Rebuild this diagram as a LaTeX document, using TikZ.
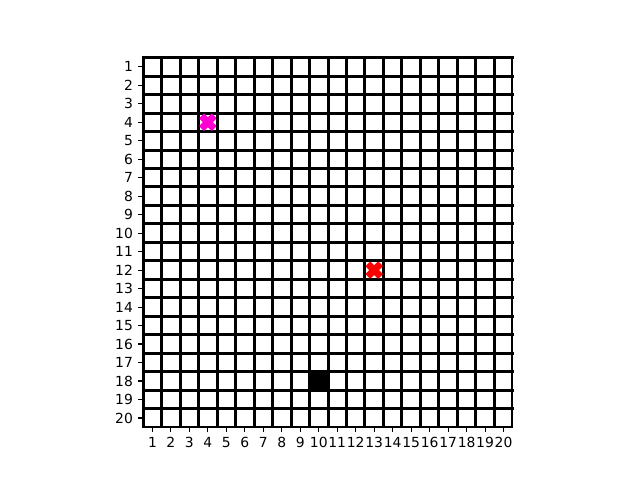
\documentclass[tikz,border=0pt]{standalone}
\usepackage{fontspec}
\setmainfont{DejaVu Sans}
\definecolor{mag}{RGB}{255,0,208}
\tikzset{
  gridline/.style={line width=3pt, black, line cap=rect},
  edgeline/.style={line width=2.1pt, black, line cap=rect},
  tickmark/.style={line width=1.1pt, black},
  ylab/.style={anchor=east, inner sep=0pt, font=\fontsize{13.9}{14}\selectfont},
  xlab/.style={anchor=north, inner sep=0pt, font=\fontsize{13.9}{14}\selectfont},
  xmark/.style={line width=1.4pt, line join=round},
}
\begin{document}
\begin{tikzpicture}[x=1pt,y=-1pt]
\useasboundingbox (0,0) rectangle (640,480);
\fill[white] (0,0) rectangle (640,480);
\def\xo{143.2}\def\yo{57.6}\def\cs{18.48}
% black cell (col 10,row 18)
\fill[black] ({\xo+9*\cs},{\yo+17*\cs}) rectangle ({\xo+10*\cs},{\yo+18*\cs});
% grid
\foreach \i in {0,...,19}{
  \draw[gridline] ({\xo+\i*\cs},\yo) -- ({\xo+\i*\cs},{\yo+20*\cs-0.5});
  \draw[gridline] (\xo,{\yo+\i*\cs}) -- ({\xo+20*\cs-0.5},{\yo+\i*\cs});
}
\draw[edgeline] ({\xo+20*\cs-0.45},\yo) -- ({\xo+20*\cs-0.45},{\yo+20*\cs-0.45}) -- (\xo,{\yo+20*\cs-0.45});
% ticks and labels
\foreach \i in {1,...,20}{
  \coordinate (yt\i) at (\xo,{\yo+(\i-0.5)*\cs});
  \draw[tickmark] (yt\i) -- ++(-4.86,0) node[ylab, xshift=-4.86pt] (yl\i) {\i};
  \coordinate (xt\i) at ({\xo+(\i-0.5)*\cs},{\yo+20*\cs});
  \draw[tickmark] (xt\i) -- ++(0,4.86) node[xlab, yshift=-4.86pt] (xl\i) {\i};
}
% X markers
\foreach \cx/\cy/\col/\nm in {4/4/mag/ma, 13/12/red/mb}{
  \begin{scope}[shift={({\xo+(\cx-0.5)*\cs},{\yo+(\cy-0.5)*\cs})}, rotate=45, scale=16.67]
    \filldraw[xmark, fill=\col, draw=\col, line width=1.4pt]
      (-1/6,-1/2) -- (1/6,-1/2) -- (1/6,-1/6) -- (1/2,-1/6) -- (1/2,1/6) -- (1/6,1/6)
      -- (1/6,1/2) -- (-1/6,1/2) -- (-1/6,1/6) -- (-1/2,1/6) -- (-1/2,-1/6) -- (-1/6,-1/6) -- cycle;
  \end{scope}
}
\end{tikzpicture}
\end{document}
